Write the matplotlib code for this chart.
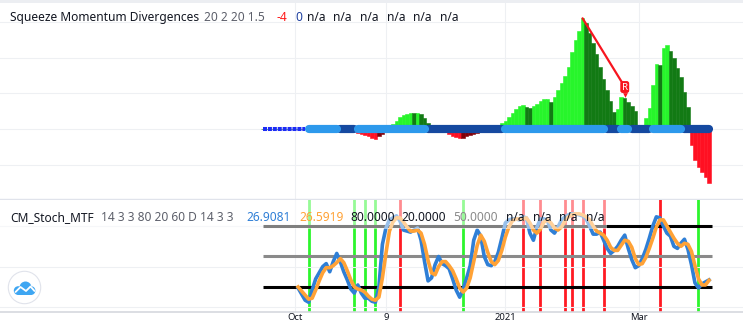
import matplotlib
matplotlib.use("Agg")
import matplotlib.pyplot as plt
import matplotlib.patches as mpatches
import matplotlib.transforms as mtransforms
import numpy as np

plt.rcParams['font.family'] = ['Noto Sans', 'DejaVu Sans']

# squeeze momentum histogram, one value per daily bar (128 bars)
hist = [0.0] * 25 + [
    -0.3, -0.6, -1.0, -1.4, -1.8, -2.1, -2.5, -2.7, -2.0, -1.3,
    -0.6, 0.4, 1.4, 2.3, 3.3, 4.0, 4.3, 4.5, 4.4, 4.6,
    4.1, 3.0, 1.8, 1.0, 0.5, 0.1, -0.4, -0.9, -1.4, -1.9,
    -2.3, -2.6, -2.4, -2.1, -1.8, -1.5, -1.2, -0.9, -0.6, -0.3,
    0.1, 0.5, 1.0, 1.6, 2.2, 3.3, 4.4, 5.7, 6.4, 6.7,
    6.1, 5.9, 6.3, 7.0, 7.8, 8.3, 8.4, 7.6, 9.0, 10.8,
    12.8, 14.8, 17.5, 21.5, 25.0, 27.5, 31.0, 29.8, 27.0, 24.0,
    21.0, 17.5, 14.0, 11.0, 7.8, 4.8, 5.6, 9.0, 8.8, 7.6,
    6.4, 4.9, 0.8, 1.2, 3.0, 5.8, 12.3, 18.2, 17.9, 22.6,
    23.5, 21.9, 19.8, 17.0, 14.7, 10.4, 6.2, -4.5, -8.7, -10.6,
    -12.0, -13.4, -15.0]

# squeeze state runs: 0 = no squeeze (small dots), 1 = light, 2 = dark
sqz_runs = [(0, 13), (1, 9), (2, 5), (1, 20), (2, 22), (1, 29),
            (2, 4), (1, 3), (2, 6), (1, 9), (2, 8)]

# regular bearish divergence between two momentum highs
div_from, div_to = 91, 103

# stochastic MTF
stoch_start = 10
stoch_k = [19, 13, 7, 5, 17, 28, 34, 40, 43, 35,
           45, 53, 45, 35, 27, 18, 14, 22, 14, 9,
           9, 6, 5, 20, 62, 78, 86, 88, 90, 85,
           76, 75, 74, 76, 78, 66, 45, 26, 29, 42,
           50, 43, 41, 38, 28, 17, 10, 18, 29, 41,
           66, 76, 70, 50, 42, 41, 45, 54, 68, 83,
           86, 87, 87, 86, 89, 88, 73, 66, 79, 87,
           87, 85, 76, 73, 79, 86, 89, 91, 92, 92,
           91, 90, 87, 80, 72, 72, 74, 66, 58, 53,
           56, 60, 66, 71, 58, 47, 39, 41, 48, 57,
           68, 80, 89, 88, 80, 73, 70, 60, 58, 63,
           67, 57, 42, 24, 19, 23, 25, 26.9081]
stoch_d = [20, 16, 12, 8, 9, 17, 26, 34, 39, 39,
           41, 44, 48, 44, 36, 27, 20, 18, 17, 15,
           11, 8, 7, 10, 29, 53, 75, 84, 88, 88,
           84, 79, 75, 75, 76, 73, 62, 46, 34, 32,
           40, 45, 45, 41, 36, 28, 19, 15, 19, 29,
           45, 61, 71, 65, 54, 45, 42, 46, 56, 69,
           79, 85, 87, 87, 87, 88, 83, 76, 73, 77,
           84, 86, 83, 78, 76, 79, 85, 89, 91, 92,
           92, 91, 89, 86, 80, 75, 73, 71, 66, 59,
           56, 56, 61, 66, 65, 59, 48, 42, 43, 49,
           58, 68, 79, 86, 86, 80, 74, 68, 63, 60,
           63, 62, 55, 41, 28, 22, 22, 26.5919]
bull_bars = [13, 26, 29, 32, 57, 124]
bear_bars = [39, 74, 79, 86, 88, 91, 97, 113]
upper, middle, lower = 80, 50, 20

tick_bars = [9, 35, 69, 107]
tick_labels = ["Oct", "9", "2021", "Mar"]

# ---- layout (pixels) ----
W, H = 743, 323
X0, STEP = 263, 3.512       # pixel of bar 0, pixels per bar
fig = plt.figure(figsize=(W / 100, H / 100), dpi=100)
fig.patch.set_facecolor("white")


def px_axes(x0, y0, x1, y1):
    return fig.add_axes([x0 / W, 1 - y1 / H, (x1 - x0) / W, (y1 - y0) / H])


def fx(x):
    return x / W


def fy(y):
    return 1 - y / H


GRID = "#eef0f3"
xlim = (-X0 / STEP, (W - X0) / STEP)

fig.patches.append(mpatches.Rectangle((0, fy(3)), 1, 3 / H, transform=fig.transFigure,
                                      fc="#eceef2", ec="none"))

# ---- top pane: squeeze momentum ----
ax1 = px_axes(0, 3, W, 199)
ax1.set_xlim(*xlim)
ax1.set_ylim(-19.61, 35.29)
ax1.set_xticks(tick_bars)
ax1.set_yticks([-10, 0, 10, 20, 30])
ax1.grid(True, color=GRID, lw=0.8)
ax1.tick_params(length=0, labelbottom=False, labelleft=False)
for s in ["top", "left", "right"]:
    ax1.spines[s].set_visible(False)
ax1.spines["bottom"].set_color("#e0e3eb")
ax1.spines["bottom"].set_linewidth(1.0)

idx = np.arange(len(hist))
h = np.array(hist)
prev = np.r_[h[0], h[:-1]]
cols = np.where(h >= 0,
                np.where(h > prev, "#27f52b", "#127a14"),
                np.where(h < prev, "#ff1022", "#820008"))
ax1.bar(idx, h, width=1.0, color=cols, edgecolor=cols, linewidth=0.4, zorder=2)

# squeeze dots drawn as runs: no-squeeze thin dotted, then dark, then light on top
start = 0
runs = []
for st, n in sqz_runs:
    runs.append((st, idx[start:start + n]))
    start += n
for st, r in runs:
    if st == 0:
        ax1.plot(r, np.zeros(len(r)), color="#1c2cf5", lw=2.9,
                 dashes=(1.0, 0.22), zorder=3)
for want, col, z in [(2, "#1549a0", 3), (1, "#2d99ec", 4)]:
    for st, r in runs:
        if st == want:
            ax1.plot(r, np.zeros(len(r)), color=col, lw=5.9,
                     solid_capstyle="round", zorder=z)

label_lift = 3.0
ax1.plot([div_from, div_to], [h[div_from], h[div_to] + label_lift],
         color="#f7151f", lw=1.6, solid_capstyle="round", zorder=5)
ax1.annotate("R", xy=(div_to, h[div_to]), xytext=(0, 7.6), textcoords="offset points",
             ha="center", va="center", fontsize=7, fontweight="bold", color="white",
             bbox=dict(boxstyle="round,pad=0.15,rounding_size=0.25", fc="#f7151f", ec="none"),
             zorder=6)
tip = mtransforms.offset_copy(ax1.transData, fig=fig, x=0, y=1.6, units="points")
ax1.plot([div_to], [h[div_to]], marker="v", ms=3.4, color="#f7151f", mew=0,
         transform=tip, zorder=6)

# ---- bottom pane: stochastic ----
ax2 = px_axes(0, 200, W, 312)
ax2.set_xlim(*xlim)
ax2.set_ylim(-4.59, 105.57)
ax2.set_xticks(tick_bars)
ax2.set_xticklabels(tick_labels)
ax2.set_yticks([0, 40, 80])
ax2.grid(True, color=GRID, lw=0.8)
ax2.tick_params(length=0, labelleft=False, pad=1.0, labelsize=6.8, labelcolor="#131722")
for s in ["top", "left", "right"]:
    ax2.spines[s].set_visible(False)
ax2.spines["bottom"].set_color("#d6d8de")
ax2.spines["bottom"].set_linewidth(1.2)

for b in bull_bars:
    ax2.axvline(b, color="#2df52d", lw=2.0, zorder=1)
for b in bear_bars:
    ax2.axvline(b, color="#ff1a22", lw=2.0, zorder=1)
ax2.hlines([upper, lower], idx[0], idx[-1] + 0.8, color="black", lw=2.2, zorder=2)
ax2.hlines([middle], idx[0], idx[-1] + 0.8, color="#8a8a8a", lw=2.2, zorder=2)

sidx = np.arange(stoch_start, stoch_start + len(stoch_k))
ax2.plot(sidx, stoch_k, color="#2f7fd6", lw=2.6, solid_joinstyle="round", zorder=3)
ax2.plot(sidx, stoch_d, color="#ffa236", lw=2.6, solid_joinstyle="round", zorder=4)

# legend backdrop
ax2.add_patch(mpatches.Rectangle((0, (312 - 229) / 112), 607 / W, 1 - (312 - 229) / 112,
                                 transform=ax2.transAxes, fc="white", alpha=0.5,
                                 ec="none", zorder=5))

# ---- legends ----
FS = 8.6
top_items = [("Squeeze Momentum Divergences", 10, "#131722"),
             ("20 2 20 1.5", 204, "#5d606b"),
             ("-4", 276.7, "#ff1a1a"),
             ("0", 295, "#1e40a0")]
for xp in [306.7, 333.3, 360, 386.7, 413.3, 440]:
    top_items.append(("n/a", xp, "#131722"))
for txt, xp, c in top_items:
    fig.text(fx(xp), fy(21), txt, color=c, fontsize=FS, va="baseline", ha="left")

bot_items = [("CM_Stoch_MTF", 10, "#131722"),
             ("14 3 3 80 20 60 D 14 3 3", 100.7, "#5d606b"),
             (f"{stoch_k[-1]:.4f}", 246.7, "#2f7fd6"),
             (f"{stoch_d[-1]:.4f}", 299, "#ffa236"),
             (f"{upper:.4f}", 350.7, "#131722"),
             (f"{lower:.4f}", 401.7, "#131722"),
             (f"{middle:.4f}", 453.3, "#8a8a8a")]
for xp in [506, 532.7, 559.3, 585.7]:
    bot_items.append(("n/a", xp, "#131722"))
for txt, xp, c in bot_items:
    fig.text(fx(xp), fy(221), txt, color=c, fontsize=FS, va="baseline", ha="left")

# ---- TradingView logo ----
axl = px_axes(7, 270, 42, 305)
axl.set_xlim(7, 42)
axl.set_ylim(305, 270)
axl.axis("off")
axl.add_patch(mpatches.Circle((24.5, 287.5), 16.2, fc="white", ec="#e0e3eb", lw=0.8))
logo_blue = "#3ea6f2"
axl.add_patch(mpatches.Circle((25.5, 287.5), 6.0, fc=logo_blue, ec="none"))
axl.add_patch(mpatches.Circle((18.2, 290.6), 4.4, fc=logo_blue, ec="none"))
axl.add_patch(mpatches.Circle((31.0, 290.6), 4.4, fc=logo_blue, ec="none"))
axl.add_patch(mpatches.Rectangle((18.2, 288), 12.8, 7.0, fc=logo_blue, ec="none"))
axl.plot([15.5, 20.5, 26, 30.5, 34.5], [292, 287, 291, 286.5, 291],
         color="white", lw=1.3, solid_joinstyle="round", solid_capstyle="round")

fig.savefig("out.png", dpi=100, facecolor="white")
